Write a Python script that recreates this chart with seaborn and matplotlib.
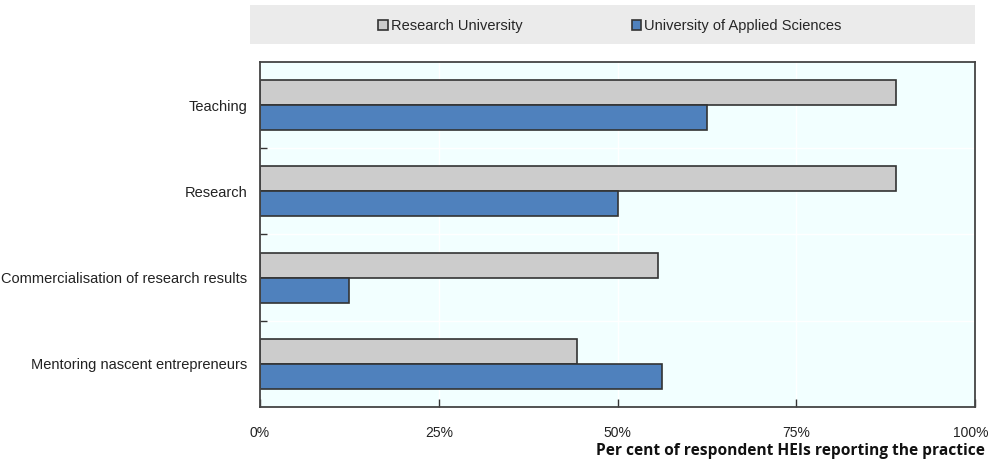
import matplotlib
matplotlib.use("Agg")
import matplotlib.pyplot as plt
import matplotlib.transforms as mtransforms
import seaborn as sns
import pandas as pd
from matplotlib.patches import Rectangle
from matplotlib.ticker import FixedLocator, PercentFormatter

categories = ["Teaching", "Research", "Commercialisation of research results",
              "Mentoring nascent entrepreneurs"]
series = ["Research University", "University of Applied Sciences"]
research_university = [88.9, 88.9, 55.6, 44.4]
applied_sciences = [62.5, 50.0, 12.5, 56.25]
x_ticks = [0, 25, 50, 75, 100]

df = pd.DataFrame({
    "category": categories * 2,
    "series": [series[0]] * 4 + [series[1]] * 4,
    "value": research_university + applied_sciences,
})

sns.set_theme(style="white")
plt.rcParams["font.family"] = ["Liberation Sans", "DejaVu Sans"]

fig = plt.figure(figsize=(9.9, 4.61), dpi=100)
ax = fig.add_axes([260/990, 1-407/461, (975-260)/990, (407-62)/461])
ax.set_facecolor("#F2FFFF")

palette = {series[0]: "#CCCCCC", series[1]: "#4F81BD"}
sns.barplot(data=df, y="category", x="value", hue="series", order=categories,
            hue_order=series, palette=palette, orient="h", width=0.58,
            edgecolor="#333333", linewidth=1.2, saturation=1, ax=ax, legend=True)

ax.set_xlim(0, 100)
ax.set_ylim(3.5, -0.5)
ax.xaxis.set_major_locator(FixedLocator(x_ticks))
ax.xaxis.set_major_formatter(PercentFormatter(decimals=0))
ax.yaxis.set_minor_locator(FixedLocator([0.5, 1.5, 2.5]))
ax.grid(True, axis="x", which="major", color="white", linewidth=1)
ax.grid(True, axis="y", which="minor", color="white", linewidth=1)
ax.set_axisbelow(True)
ax.tick_params(axis="x", which="major", direction="in", length=6, width=1, color="#333333",
               labelsize=10, pad=14, labelcolor="#222222", bottom=True)
ax.tick_params(axis="y", which="major", length=0, labelsize=10.5, pad=9, labelcolor="#222222")
ax.tick_params(axis="y", which="minor", direction="in", length=5, width=1, color="#333333", left=True)
for s in ax.spines.values():
    s.set_color("#444444")
    s.set_linewidth(1.3)
ax.set_ylabel("")
ax.set_xlabel("")
fig.canvas.draw()
for lbl in ax.get_xticklabels():
    if lbl.get_text() == "100%":
        lbl.set_transform(lbl.get_transform() +
                          mtransforms.ScaledTranslation(-4/100, 0, fig.dpi_scale_trans))

fig.text(985/990, 1-451/461, "Per cent of respondent HEIs reporting the practice",
         ha="right", va="center", fontsize=11.2, fontweight="bold",
         family=["Open Sans", "DejaVu Sans"], color="#111111")

# legend band
fig.patches.append(Rectangle((250/990, 1-44/461), (975-250)/990, 39/461,
                             transform=fig.transFigure, facecolor="#EBEBEB",
                             edgecolor="none", zorder=0))
handles, labels = ax.get_legend_handles_labels()
ax.get_legend().remove()
leg = fig.legend(handles, labels, loc="center", bbox_to_anchor=(610/990, 1-26/461),
                 ncol=2, frameon=False, handlelength=0.65, handleheight=0.65,
                 handletextpad=0.2, columnspacing=7.5, fontsize=10.5)
for h in leg.legend_handles:
    h.set_edgecolor("#333333")
    h.set_linewidth(1.2)

fig.savefig("out.png", dpi=100)
